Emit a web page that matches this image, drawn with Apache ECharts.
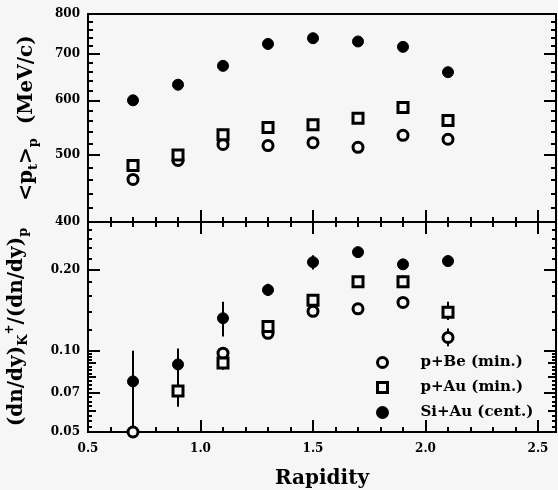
<!DOCTYPE html>
<html><head><meta charset="utf-8">
<script src="https://cdn.jsdelivr.net/npm/echarts@6/dist/echarts.min.js"></script>
<style>html,body{margin:0;padding:0;background:#f6f6f6}#c{width:558px;height:490px}</style>
</head><body><div id="c"></div>
<script>
// ---- data ----
const rapidity = [0.7, 0.9, 1.1, 1.3, 1.5, 1.7, 1.9, 2.1];
// top panel: <pt>_p (MeV/c)
const ptSiAu = [600, 632, 673, 724, 738, 730, 717, 659];
const ptPAu  = [483, 500, 535, 548, 553, 565, 586, 561];
const ptPBe  = [461, 491, 518, 516, 521, 513, 534, 527];
// bottom panel: (dn/dy)K+/(dn/dy)p with error ranges
const ratioSiAu   = [0.077, 0.089, 0.132, 0.168, 0.213, 0.232, 0.209, 0.215];
const ratioSiAuLo = [0.050, 0.078, 0.113, 0.160, 0.200, 0.225, 0.203, 0.208];
const ratioSiAuHi = [0.100, 0.102, 0.152, 0.177, 0.226, 0.240, 0.215, 0.222];
const ratioPAu    = [null, 0.071, 0.090, 0.123, 0.154, 0.180, 0.180, 0.139];
const ratioPAuLo  = [null, 0.062, 0.085, 0.117, 0.147, 0.174, 0.172, 0.130];
const ratioPAuHi  = [null, 0.080, 0.096, 0.129, 0.161, 0.186, 0.190, 0.152];
const ratioPBe    = [0.050, null, 0.098, 0.116, 0.140, 0.143, 0.151, 0.112];
const ratioPBeLo  = [null, null, 0.094, 0.111, 0.134, 0.137, 0.145, 0.104];
const ratioPBeHi  = [null, null, 0.103, 0.120, 0.145, 0.150, 0.158, 0.121];
const seriesNames = ['p+Be (min.)', 'p+Au (min.)', 'Si+Au (cent.)'];
// ticks
const xMajor = [0.5, 1.0, 1.5, 2.0, 2.5];
const xMinor = [0.6, 0.7, 0.8, 0.9, 1.1, 1.2, 1.3, 1.4, 1.6, 1.7, 1.8, 1.9, 2.1, 2.2, 2.3, 2.4];
const ptMajor = [400, 500, 600, 700, 800];
const ptMinor = [420, 440, 460, 480, 520, 540, 560, 580, 620, 640, 660, 680, 720, 740, 760, 780];
const ratioMajor = [0.05, 0.07, 0.10, 0.20, 0.30];
const ratioLabels = [0.05, 0.07, 0.10, 0.20];
const ratioMid = [0.06, 0.08, 0.09];
const ratioMinor = [0.0525, 0.055, 0.0575, 0.0625, 0.065, 0.0675, 0.0725, 0.075, 0.0775, 0.0825, 0.085, 0.0875, 0.0925, 0.095, 0.0975,
  0.12, 0.14, 0.16, 0.18, 0.22, 0.24, 0.26, 0.28];

const BG = '#f6f6f6';
const FONT = 'DejaVu Serif';
const X_MIN = 0.5, X_MAX = 2.58;
const PT_MIN = 400, PT_MAX = 800;
const R_MIN = 0.05, R_MAX = 0.30;

const tickLine = {color: '#000', width: 2};
function xAx(grid, pos, ticks, len, withLabels) {
  const a = {
    type: 'value', gridIndex: grid, position: pos, min: X_MIN, max: X_MAX,
    axisLine: {show: false}, splitLine: {show: false},
    axisTick: {show: true, inside: true, length: len, lineStyle: tickLine, customValues: ticks},
    axisLabel: {show: false}
  };
  if (withLabels) {
    a.axisLabel = {show: true, customValues: ticks, formatter: v => Number(v).toFixed(1),
      color: '#000', fontFamily: FONT, fontWeight: 'bold', fontSize: 12, margin: 11};
    a.name = 'Rapidity';
    a.nameLocation = 'middle';
    a.nameGap = 37;
    a.nameTextStyle = {color: '#000', fontFamily: FONT, fontWeight: 'bold', fontSize: 20};
  }
  return a;
}
function yAx(grid, pos, min, max, ticks, len, labels, fmt, name, gap) {
  const a = {
    type: 'log', logBase: 10, gridIndex: grid, position: pos, min: min, max: max,
    axisLine: {show: false}, splitLine: {show: false}, minorTick: {show: false},
    axisTick: {show: true, inside: true, length: len, lineStyle: tickLine, customValues: ticks},
    axisLabel: {show: false}
  };
  if (labels) {
    a.axisLabel = {show: true, customValues: labels, formatter: fmt,
      color: '#000', fontFamily: FONT, fontWeight: 'bold', fontSize: 12, margin: 8};
  }
  if (name) {
    a.name = name;
    a.nameLocation = 'middle';
    a.nameGap = gap;
    a.nameTextStyle = {color: '#000', fontFamily: FONT, fontWeight: 'bold', fontSize: 20,
      rich: {
        m: {fontFamily: FONT, fontWeight: 'bold', fontSize: 20, lineHeight: 26, color: '#000'},
        s: {fontFamily: FONT, fontWeight: 'bold', fontSize: 13, lineHeight: 26, verticalAlign: 'bottom', color: '#000', padding: [6, 0, 0, 0]},
        u: {fontFamily: FONT, fontWeight: 'bold', fontSize: 12, lineHeight: 26, verticalAlign: 'top', color: '#000', padding: [0, 0, 8, 0]}
      }};
  }
  return a;
}

const xAxes = [
  xAx(0, 'bottom', xMajor, 12, false),   // 0
  xAx(0, 'bottom', xMinor, 5, false),    // 1
  xAx(1, 'bottom', xMajor, 12, true),    // 2
  xAx(1, 'bottom', xMinor, 5, false),    // 3
  xAx(1, 'top', xMajor, 12, false),      // 4
  xAx(1, 'top', xMinor, 5, false)        // 5
];
const fmtPt = v => String(Math.round(v));
const fmtR = v => Number(v).toFixed(2);
const yAxes = [
  yAx(0, 'left', PT_MIN, PT_MAX, ptMajor, 12, ptMajor, fmtPt, '{m|<p}{s|t}{m|>}{s|p}{m|  (MeV/c)}', 48), // 0
  yAx(0, 'left', PT_MIN, PT_MAX, ptMinor, 5),   // 1
  yAx(0, 'right', PT_MIN, PT_MAX, ptMajor, 12), // 2
  yAx(0, 'right', PT_MIN, PT_MAX, ptMinor, 5),  // 3
  yAx(1, 'left', R_MIN, R_MAX, ratioMajor, 12, ratioLabels, fmtR, '{m|(dn/dy)}{s|K}{u|+}{m|/(dn/dy)}{s|p}', 58), // 4
  yAx(1, 'left', R_MIN, R_MAX, ratioMid, 8),    // 5
  yAx(1, 'left', R_MIN, R_MAX, ratioMinor, 4),  // 6
  yAx(1, 'right', R_MIN, R_MAX, ratioMajor, 12),// 7
  yAx(1, 'right', R_MIN, R_MAX, ratioMid, 8),   // 8
  yAx(1, 'right', R_MIN, R_MAX, ratioMinor, 4)  // 9
];

const styleOpen = {color: BG, borderColor: '#000', borderWidth: 3, opacity: 1};
const styleFilled = {color: '#000', borderColor: '#000', borderWidth: 1, opacity: 1};
const SQUARE = 'path://M0,0L10,0L10,10L0,10Z';
function pairs(vals) {
  const out = [];
  rapidity.forEach((x, i) => { if (vals[i] != null) out.push([x, vals[i]]); });
  return out;
}
function scatter(name, vals, xi, yi, symbol, size, style) {
  return {type: 'scatter', name, xAxisIndex: xi, yAxisIndex: yi, data: pairs(vals),
    symbol, symbolSize: size, symbolKeepAspect: true, itemStyle: style, z: 5, clip: false,
    emphasis: {disabled: true}};
}
function errBars(name, lo, hi, xi, yi) {
  const data = [];
  rapidity.forEach((x, i) => { if (lo[i] != null) data.push([x, lo[i], hi[i]]); });
  return {type: 'custom', name, xAxisIndex: xi, yAxisIndex: yi, data, z: 2, clip: true, silent: true,
    encode: {x: 0, y: [1, 2]},
    renderItem: (params, api) => {
      const a = api.coord([api.value(0), api.value(1)]);
      const b = api.coord([api.value(0), api.value(2)]);
      return {type: 'line', shape: {x1: a[0], y1: a[1], x2: b[0], y2: b[1]},
        style: {stroke: '#000', lineWidth: 2}};
    }};
}

const series = [
  scatter(seriesNames[0], ptPBe, 0, 0, 'circle', 10, styleOpen),
  scatter(seriesNames[1], ptPAu, 0, 0, SQUARE, 10, styleOpen),
  scatter(seriesNames[2], ptSiAu, 0, 0, 'circle', 11, styleFilled),
  scatter(seriesNames[0], ratioPBe, 2, 4, 'circle', 10, styleOpen),
  scatter(seriesNames[1], ratioPAu, 2, 4, SQUARE, 10, styleOpen),
  scatter(seriesNames[2], ratioSiAu, 2, 4, 'circle', 11, styleFilled),
  errBars(seriesNames[0], ratioPBeLo, ratioPBeHi, 2, 4),
  errBars(seriesNames[1], ratioPAuLo, ratioPAuHi, 2, 4),
  errBars(seriesNames[2], ratioSiAuLo, ratioSiAuHi, 2, 4)
];

const chart = echarts.init(document.getElementById('c'), null, {renderer: 'canvas'});
chart.setOption({
  backgroundColor: BG,
  animation: false,
  grid: [
    {left: 88, top: 14, width: 468, height: 208, show: true, borderColor: '#000', borderWidth: 2,
      backgroundColor: 'transparent', containLabel: false, outerBoundsMode: 'none'},
    {left: 88, top: 222, width: 468, height: 210, show: true, borderColor: '#000', borderWidth: 2,
      backgroundColor: 'transparent', containLabel: false, outerBoundsMode: 'none'}
  ],
  xAxis: xAxes,
  yAxis: yAxes,
  legend: {
    data: seriesNames, orient: 'vertical', left: 371, top: 350,
    itemWidth: 66, itemHeight: 10, itemGap: 10,
    textStyle: {color: '#000', fontFamily: FONT, fontWeight: 'bold', fontSize: 15, lineHeight: 12},
    itemStyle: {borderWidth: 3, opacity: 1},
    selectedMode: false
  },
  series
});
</script></body></html>
